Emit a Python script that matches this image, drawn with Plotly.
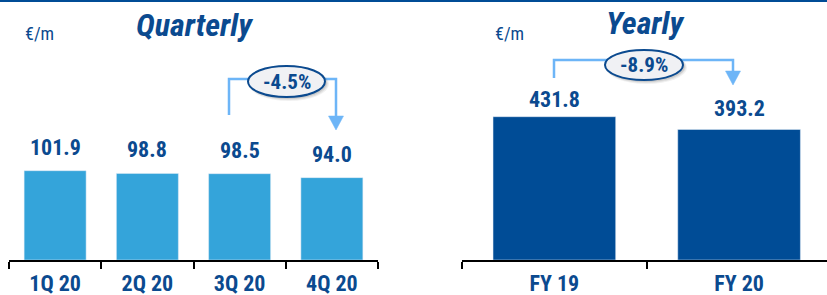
import plotly.graph_objects as go

W, H = 827, 295

q_categories = ["1Q 20", "2Q 20", "3Q 20", "4Q 20"]
q_values = [101.9, 98.8, 98.5, 94.0]
y_categories = ["FY 19", "FY 20"]
y_values = [431.8, 393.2]
q_change = "-4.5%"
y_change = "-8.9%"

LIGHT = "#34a4da"
DARK = "#004c96"
TXT = "#0b4a8f"
ARROW = "#6db5f7"
COND = "Roboto Condensed, Liberation Sans, Arial, sans-serif"


def px(x):
    return x / W


def py(y):
    return 1 - y / H


fig = go.Figure()
fig.add_trace(go.Bar(x=q_categories, y=q_values, marker_color=LIGHT, width=0.672,
                     xaxis="x", yaxis="y", hoverinfo="skip"))
fig.add_trace(go.Bar(x=y_categories, y=y_values, marker_color=DARK, width=0.664,
                     xaxis="x2", yaxis="y2", hoverinfo="skip"))

ann = []
for c, v in zip(q_categories, q_values):
    ann.append(dict(x=c, y=v, xref="x", yref="y", text=f"{v:.1f}", showarrow=False,
                    xanchor="center", yanchor="bottom", yshift=9,
                    font=dict(family=COND, size=22, color=TXT, weight="bold")))
for c, v, s in zip(y_categories, y_values, [3, 7]):
    ann.append(dict(x=c, y=v, xref="x2", yref="y2", text=f"{v:.1f}", showarrow=False,
                    xanchor="center", yanchor="bottom", yshift=s,
                    font=dict(family=COND, size=22, color=TXT, weight="bold")))


def label(x, y, text, font):
    ann.append(dict(x=px(x), y=py(y), xref="paper", yref="paper", text=text, showarrow=False,
                    xanchor="center", yanchor="middle", font=font))


# titles and units
label(194.5, 25, "Quarterly", dict(family=COND, size=32, color=TXT, weight="bold", style="italic"))
label(645, 23, "Yearly", dict(family=COND, size=32, color=TXT, weight="bold", style="italic"))
label(39.5, 33, "€/m", dict(family=COND, size=18, color=TXT))
label(509.5, 33, "€/m", dict(family=COND, size=18, color=TXT))

shapes = []
# top border
shapes.append(dict(type="line", xref="paper", yref="paper", x0=0, x1=1, y0=py(1), y1=py(1),
                   line=dict(color=DARK, width=2)))


def bracket(xl, ybot, ytop, xr, tip, cx, cy, rw, rh, text):
    shapes.append(dict(type="path", xref="paper", yref="paper",
                       path=f"M {px(xl)},{py(ybot)} L {px(xl)},{py(ytop)} L {px(xr)},{py(ytop)} L {px(xr)},{py(tip - 14)}",
                       line=dict(color=ARROW, width=2.5)))
    shapes.append(dict(type="path", xref="paper", yref="paper",
                       path=f"M {px(xr - 7.5)},{py(tip - 14)} L {px(xr + 7.5)},{py(tip - 14)} L {px(xr)},{py(tip)} Z",
                       fillcolor=ARROW, line=dict(color=ARROW, width=0.5)))
    # soft shadow
    for d, op in [(4, 0.08), (3, 0.10), (2, 0.14)]:
        shapes.append(dict(type="circle", xref="paper", yref="paper",
                           x0=px(cx - rw + 1), x1=px(cx + rw + d), y0=py(cy + rh + d), y1=py(cy - rh + 1),
                           fillcolor=f"rgba(80,80,80,{op})", line=dict(width=0)))
    shapes.append(dict(type="circle", xref="paper", yref="paper",
                       x0=px(cx - rw), x1=px(cx + rw), y0=py(cy + rh), y1=py(cy - rh),
                       fillcolor="#f0f1f4", line=dict(color=TXT, width=2)))
    label(cx, cy + 0.5, text, dict(family=COND, size=21, color=TXT, weight="bold"))


bracket(229, 115, 79, 336, 130, 286.5, 81.5, 38.5, 15.5, q_change)
bracket(554, 78, 60, 733, 85, 644, 65, 39, 15, y_change)

axis_common = dict(type="category", showline=True, linecolor="black", linewidth=2,
                   ticks="outside", tickson="boundaries", ticklen=7, tickwidth=2, tickcolor="black",
                   showgrid=False, zeroline=False, ticklabelstandoff=3, automargin=False,
                   tickfont=dict(family=COND, size=22, color=TXT, weight="bold"))

fig.update_layout(
    width=W, height=H, margin=dict(l=0, r=0, t=0, b=0, autoexpand=False),
    paper_bgcolor="white", plot_bgcolor="white", showlegend=False,
    xaxis=dict(domain=[px(9), px(378)], range=[-0.5, 3.5], anchor="y", **axis_common),
    yaxis=dict(domain=[py(260), 1], range=[0, 296.7], visible=False, anchor="x", automargin=False),
    xaxis2=dict(domain=[px(462), 1], range=[-0.5, 1.476], anchor="y2", **axis_common),
    yaxis2=dict(domain=[py(260), 1], range=[0, 783.4], visible=False, anchor="x2", automargin=False),
    annotations=ann, shapes=shapes,
)

fig.write_html("out.html", config={"displayModeBar": False},
               post_script="document.body.style.margin='0';document.body.style.overflow='hidden';")
